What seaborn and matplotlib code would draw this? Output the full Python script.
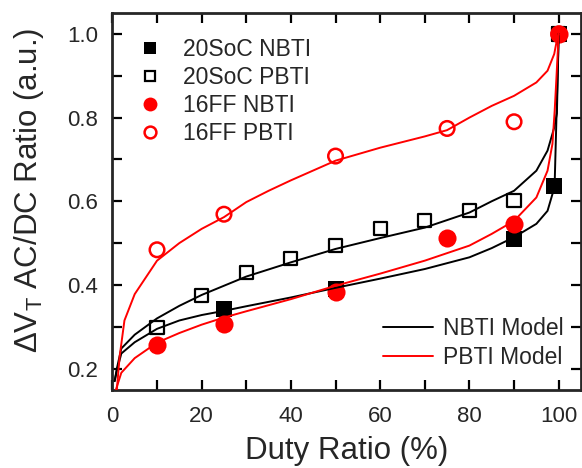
import numpy as np
import pandas as pd
import matplotlib
matplotlib.use("Agg")
import matplotlib.pyplot as plt
from matplotlib.lines import Line2D
import seaborn as sns

# ---------------- data ----------------
soc_nbti_x = [25, 50, 90, 99, 100]
soc_nbti_y = [0.343, 0.390, 0.510, 0.637, 1.0]

soc_pbti_x = [10, 20, 30, 40, 50, 60, 70, 80, 90, 100]
soc_pbti_y = [0.299, 0.374, 0.430, 0.464, 0.494, 0.534, 0.553, 0.578, 0.601, 1.0]

ff_nbti_x = [10, 25, 50, 75, 90, 100]
ff_nbti_y = [0.257, 0.306, 0.382, 0.512, 0.546, 1.0]

ff_pbti_x = [10, 25, 50, 75, 90, 100]
ff_pbti_y = [0.484, 0.569, 0.708, 0.774, 0.790, 1.0]

# model curves
nbti_up_x = [0.5, 1, 2, 5, 10, 15, 20, 25, 30, 40, 50, 60, 70, 80, 85, 90, 95, 97.5, 99, 99.6, 100]
nbti_up_y = [0.17, 0.20, 0.248, 0.281, 0.320, 0.350, 0.376, 0.398, 0.420, 0.454, 0.486, 0.512,
             0.537, 0.573, 0.600, 0.625, 0.673, 0.721, 0.776, 0.81, 1.0]

nbti_lo_x = [0.5, 1, 2, 5, 10, 15, 20, 25, 30, 40, 50, 60, 70, 80, 85, 90, 95, 97.5, 98.6, 99.1, 100]
nbti_lo_y = [0.17, 0.195, 0.236, 0.263, 0.295, 0.315, 0.328, 0.338, 0.349, 0.370, 0.393, 0.415,
             0.438, 0.466, 0.488, 0.514, 0.546, 0.577, 0.617, 0.642, 1.0]

pbti_lo_x = [0.8, 2, 5, 10, 15, 20, 25, 30, 40, 50, 60, 70, 80, 85, 90, 95, 97.5, 98.6, 99.1, 99.5, 100]
pbti_lo_y = [0.15, 0.19, 0.225, 0.262, 0.285, 0.305, 0.322, 0.337, 0.366, 0.398, 0.427, 0.458,
             0.494, 0.522, 0.553, 0.609, 0.673, 0.737, 0.816, 0.896, 1.0]

pbti_up_x = [1.0, 1.6, 2.7, 5, 10, 15, 20, 25, 30, 35, 40, 50, 60, 70, 75, 80, 85, 90, 95, 97.5, 99, 99.7, 100]
pbti_up_y = [0.15, 0.227, 0.315, 0.378, 0.458, 0.500, 0.534, 0.562, 0.598, 0.625, 0.650, 0.697,
             0.728, 0.755, 0.770, 0.800, 0.828, 0.852, 0.884, 0.912, 0.952, 0.991, 1.0]

x_ticks = [0, 20, 40, 60, 80, 100]
y_ticks = [0.2, 0.4, 0.6, 0.8, 1.0]

# ---------------- style ----------------
sns.set_style("ticks")
plt.rcParams["font.family"] = ["Liberation Sans", "DejaVu Sans"]
plt.rcParams["mathtext.fontset"] = "custom"
plt.rcParams["mathtext.rm"] = "Liberation Sans"
plt.rcParams["mathtext.it"] = "Liberation Sans:italic"

fig = plt.figure(figsize=(5.82, 4.68), dpi=100)
ax = fig.add_axes([111.5 / 582, 1 - 389.5 / 468, (581 - 111.5) / 582, (389.5 - 13) / 468])

RED = "#ff0000"

def df(x, y):
    return pd.DataFrame({"x": x, "y": y})

# markers
sns.scatterplot(data=df(soc_nbti_x, soc_nbti_y), x="x", y="y", ax=ax, marker="s", s=117,
                color="black", edgecolor="black", linewidth=0, zorder=3, legend=False)
sns.scatterplot(data=df(soc_pbti_x, soc_pbti_y), x="x", y="y", ax=ax, marker="s", s=90,
                facecolor="none", edgecolor="black", linewidth=1.6, zorder=3, legend=False)
sns.scatterplot(data=df(ff_nbti_x, ff_nbti_y), x="x", y="y", ax=ax, marker="o", s=170,
                color=RED, edgecolor=RED, linewidth=0, zorder=4, legend=False)
sns.scatterplot(data=df(ff_pbti_x, ff_pbti_y), x="x", y="y", ax=ax, marker="o", s=110,
                facecolor="none", edgecolor=RED, linewidth=1.8, zorder=4, legend=False)

# model lines
for xs, ys, c in [(nbti_up_x, nbti_up_y, "black"), (nbti_lo_x, nbti_lo_y, "black"),
                  (pbti_lo_x, pbti_lo_y, RED), (pbti_up_x, pbti_up_y, RED)]:
    sns.lineplot(data=df(xs, ys), x="x", y="y", ax=ax, color=c, linewidth=1.4,
                 sort=False, estimator=None, zorder=5, legend=False)

ax.set_xlim(-0.2, 105)
ax.set_ylim(0.15, 1.05)
ax.set_xticks(x_ticks)
ax.set_yticks(y_ticks)
ax.set_xticks([10, 30, 50, 70, 90], minor=True)
ax.set_yticks([0.3, 0.5, 0.7, 0.9], minor=True)
ax.set_xticklabels([str(v) for v in x_ticks])
ax.set_yticklabels([f"{v:.1f}" for v in y_ticks])

for sp in ax.spines.values():
    sp.set_visible(True)
    sp.set_linewidth(2.0)
ax.tick_params(axis="both", which="both", direction="in", top=True, right=True,
               length=7, width=1.6, labelsize=16, color="black")
ax.tick_params(axis="x", which="major", pad=12)
ax.tick_params(axis="y", which="major", pad=9.5)

ax.set_xlabel("Duty Ratio (%)", fontsize=22.5, labelpad=6)
ax.set_ylabel(r"$\Delta$V$_\mathrm{T}$ AC/DC Ratio (a.u.)", fontsize=22.5, labelpad=15)
ax.yaxis.label.set_y(0.53)

# legends
h1 = [
    Line2D([], [], linestyle="none", marker="s", markersize=9, color="black", markeredgewidth=0),
    Line2D([], [], linestyle="none", marker="s", markersize=7.5, markerfacecolor="none",
           markeredgecolor="black", markeredgewidth=1.6),
    Line2D([], [], linestyle="none", marker="o", markersize=10, color=RED, markeredgewidth=0),
    Line2D([], [], linestyle="none", marker="o", markersize=8.5, markerfacecolor="none",
           markeredgecolor=RED, markeredgewidth=1.8),
]
leg1 = ax.legend(h1, ["20SoC NBTI", "20SoC PBTI", "16FF NBTI", "16FF PBTI"],
                 loc="upper left", bbox_to_anchor=(138.5 / 582, 1 - 38 / 468),
                 bbox_transform=fig.transFigure, frameon=False, fontsize=16.5,
                 handlelength=1.0, handletextpad=0.94, labelspacing=0.22, borderpad=0,
                 borderaxespad=0)
ax.add_artist(leg1)

h2 = [Line2D([], [], color="black", linewidth=1.4), Line2D([], [], color=RED, linewidth=1.4)]
ax.legend(h2, ["NBTI Model", "PBTI Model"], loc="upper left",
          bbox_to_anchor=(383 / 582, 1 - 317 / 468), bbox_transform=fig.transFigure,
          frameon=False, fontsize=16.5, handlelength=2.2, handletextpad=0.4,
          labelspacing=0.28, borderpad=0, borderaxespad=0)

fig.savefig("out.png", dpi=100)
